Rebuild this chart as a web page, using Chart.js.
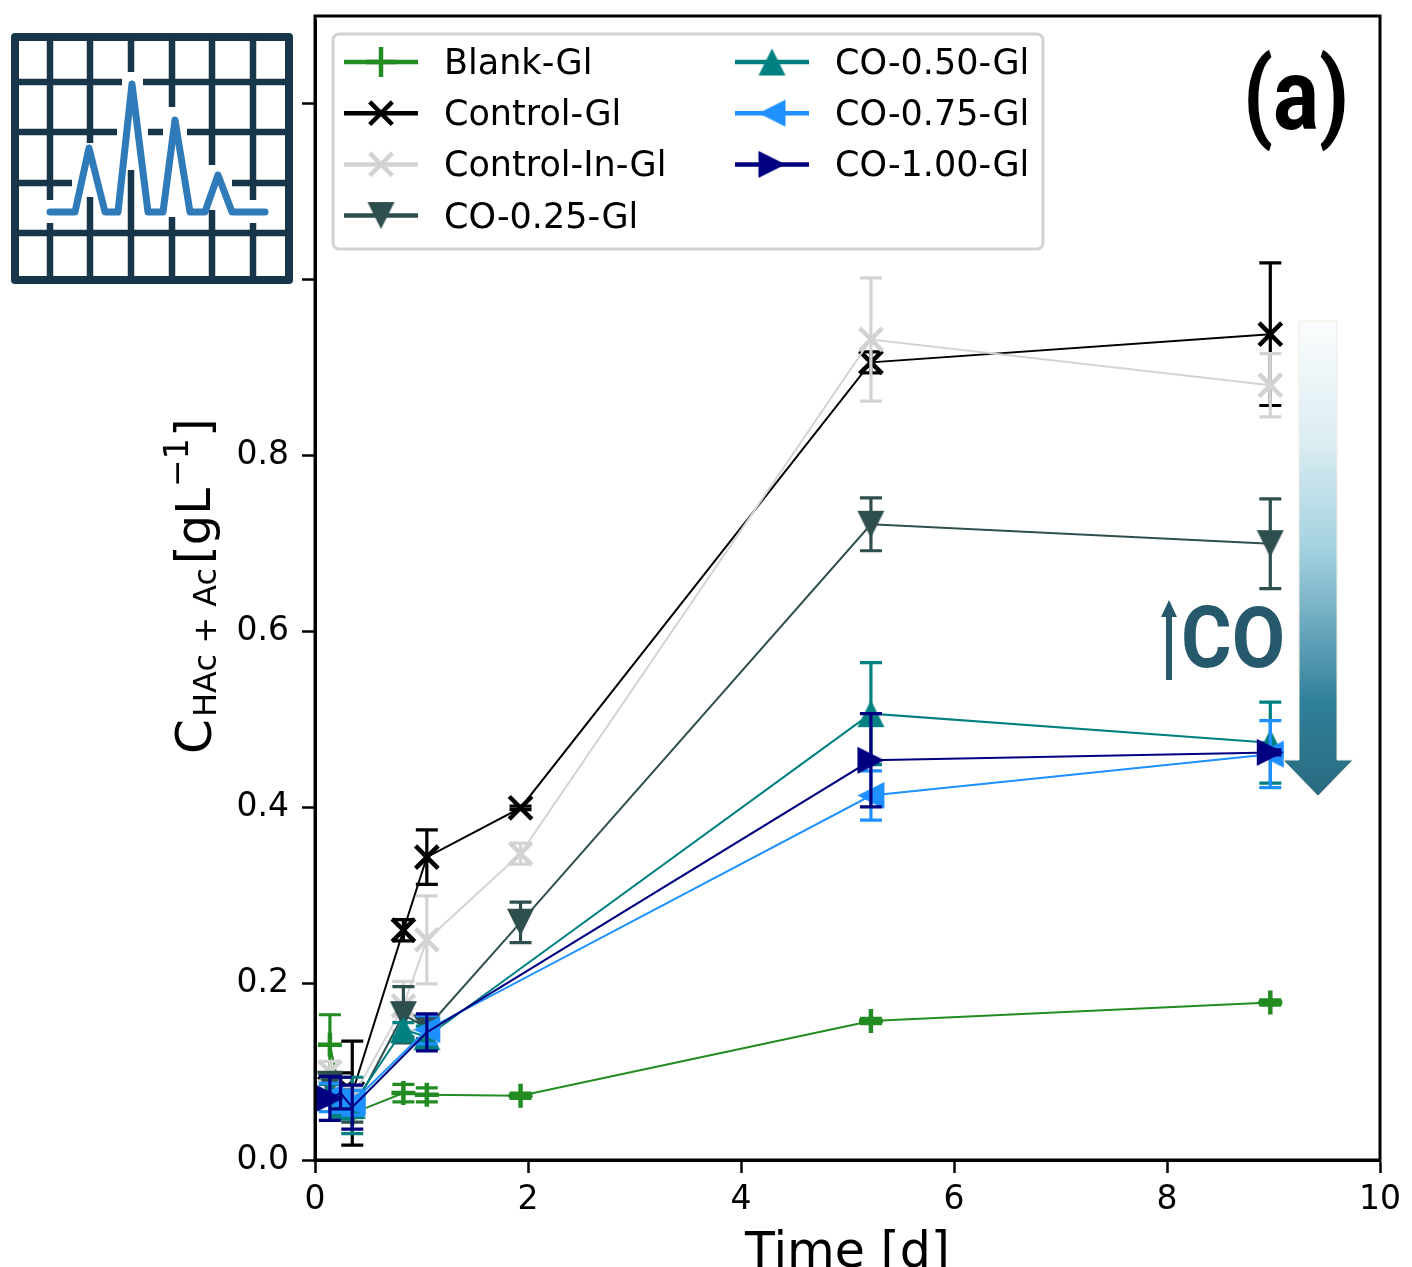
<!DOCTYPE html>
<html>
<head>
<meta charset="utf-8">
<title>Acetate concentration over time</title>
<script src="https://cdn.jsdelivr.net/npm/chart.js@4"></script>
<style>
  html, body { margin: 0; padding: 0; background: #fff; overflow: hidden; }
  canvas { display: block; }
</style>
</head>
<body>
<canvas id="chart" width="1412" height="1267"></canvas>
<script>
'use strict';

const times = [0.14, 0.24, 0.35, 0.83, 1.05, 1.93, 5.22, 8.97];

const seriesNames = ['Blank-Gl', 'Control-Gl', 'Control-In-Gl', 'CO-0.25-Gl', 'CO-0.50-Gl', 'CO-0.75-Gl', 'CO-1.00-Gl'];
const seriesColors = ['#228b22', '#000000', '#d3d3d3', '#2f4f4f', '#008080', '#1e90ff', '#000080'];

const blankValues = [0.131, 0.075, 0.053, 0.076, 0.074, 0.073, 0.158, 0.179];
const blankErrors = [0.034, 0.006, 0.005, 0.010, 0.008, 0.003, 0.003, 0.003];
const controlValues = [0.082, 0.075, 0.076, 0.261, 0.344, 0.400, 0.906, 0.938];
const controlErrors = [0.012, 0.024, 0.059, 0.012, 0.031, 0.002, 0.012, 0.081];
const controlInValues = [0.100, 0.072, 0.070, 0.175, 0.250, 0.348, 0.932, 0.880];
const controlInErrors = [0.012, 0.012, 0.012, 0.028, 0.050, 0.012, 0.070, 0.036];
const co25Values = [0.086, 0.066, 0.055, 0.165, 0.150, 0.270, 0.722, 0.700];
const co25Errors = [0.010, 0.012, 0.012, 0.032, 0.012, 0.023, 0.030, 0.051];
const co50Values = [0.076, 0.060, 0.062, 0.148, 0.140, null, 0.507, 0.474];
const co50Errors = [0.010, 0.010, 0.032, 0.008, 0.012, null, 0.058, 0.046];
const co75Values = [0.071, 0.066, 0.065, null, 0.148, null, 0.414, 0.461];
const co75Errors = [0.016, 0.012, 0.014, null, 0.016, null, 0.028, 0.038];
const co100Values = [0.070, 0.076, 0.060, null, 0.145, null, 0.454, 0.463];
const co100Errors = [0.025, 0.018, 0.025, null, 0.021, null, 0.053, 0.003];

const seriesValues = [blankValues, controlValues, controlInValues, co25Values, co50Values, co75Values, co100Values];
const seriesErrors = [blankErrors, controlErrors, controlInErrors, co25Errors, co50Errors, co75Errors, co100Errors];

const xTicks = [0, 2, 4, 6, 8, 10];
const yTicks = [0, 0.2, 0.4, 0.6, 0.8, 1.0, 1.2];
const hiddenYLabels = [1.0, 1.2];

const pointRotations = [0, 0, 0, 180, 0, -90, 90];
const pointRadii = [12, 16, 16, 14, 14, 14, 14];
// The navy markers don't show inside the crowded clusters of the reference.
const navyRadii = [14, 0, 0, 0, 0, 0, 14, 14];

const FONT = '"DejaVu Sans"';

// Chart.js puts its triangle on the centroid, matplotlib centres it on its box, so make our own.
function triangleMarker(color) {
  const marker = document.createElement('canvas');
  marker.width = 29;
  marker.height = 29;
  const m = marker.getContext('2d');
  m.fillStyle = color;
  m.beginPath();
  m.moveTo(14.5, 1);
  m.lineTo(28, 28);
  m.lineTo(1, 28);
  m.closePath();
  m.fill();
  return marker;
}

const pointStyles = [
  'cross', 'crossRot', 'crossRot',
  triangleMarker(seriesColors[3]), triangleMarker(seriesColors[4]),
  triangleMarker(seriesColors[5]), triangleMarker(seriesColors[6])
];

// Error bars are drawn straight after their own dataset, like matplotlib's errorbar.
const errorBars = {
  id: 'errorBars',
  afterDatasetDraw(chart, args) {
    const values = seriesValues[args.index];
    const errors = seriesErrors[args.index];
    const { ctx, scales: { x, y } } = chart;
    ctx.save();
    ctx.strokeStyle = seriesColors[args.index];
    ctx.lineWidth = 3.2;
    times.forEach((t, i) => {
      if (values[i] === null) return;
      const px = x.getPixelForValue(t);
      const top = y.getPixelForValue(values[i] + errors[i]);
      const bottom = y.getPixelForValue(values[i] - errors[i]);
      ctx.beginPath();
      ctx.moveTo(px, top);
      ctx.lineTo(px, bottom);
      ctx.moveTo(px - 11, top);
      ctx.lineTo(px + 11, top);
      ctx.moveTo(px - 11, bottom);
      ctx.lineTo(px + 11, bottom);
      ctx.stroke();
    });
    ctx.restore();
  }
};

function drawLegend(ctx) {
  ctx.save();
  ctx.lineWidth = 3;
  ctx.strokeStyle = '#d2d2d2';
  ctx.fillStyle = '#fff';
  ctx.beginPath();
  ctx.roundRect(333, 34, 710, 215, 6);
  ctx.fill();
  ctx.stroke();

  ctx.font = '35px ' + FONT;
  ctx.textBaseline = 'alphabetic';
  seriesNames.forEach((name, i) => {
    const col = i < 4 ? 0 : 1;
    const row = i < 4 ? i : i - 4;
    const left = col === 0 ? 344 : 735;
    const rowY = 62 + row * 51.2;
    ctx.strokeStyle = seriesColors[i];
    ctx.fillStyle = seriesColors[i];
    ctx.lineWidth = 4.5;
    ctx.beginPath();
    ctx.moveTo(left, rowY);
    ctx.lineTo(left + 74, rowY);
    ctx.stroke();
    Chart.helpers.drawPoint(ctx, {
      pointStyle: pointStyles[i],
      rotation: pointRotations[i],
      radius: i === 0 ? 15 : pointRadii[i],
      borderWidth: 3
    }, left + 37, rowY);
    ctx.fillStyle = '#000';
    ctx.fillText(name, col === 0 ? 444 : 835, rowY + 12);
  });
  ctx.restore();
}

function drawIcon(ctx) {
  const verticals = [
    [50, [[36, 200], [223, 280]]],
    [90, [[36, 143], [197, 280]]],
    [131, [[36, 72], [170, 280]]],
    [172, [[36, 107], [217, 280]]],
    [212, [[36, 165], [210, 280]]],
    [253, [[36, 200], [223, 280]]]
  ];
  const horizontals = [
    [82, [[15, 122], [143, 289]]],
    [132, [[15, 117], [148, 163], [187, 289]]],
    [183, [[15, 72], [232, 289]]],
    [233, [[15, 289]]]
  ];
  const peak = [[50, 212], [75, 212], [89, 148], [105, 212], [118, 212], [132, 84], [148, 212],
    [163, 212], [175, 120], [190, 212], [205, 212], [218, 175], [232, 212], [265, 212]];
  ctx.save();
  ctx.strokeStyle = '#17364a';
  ctx.lineWidth = 8;
  ctx.lineJoin = 'round';
  ctx.strokeRect(15, 37, 274, 243);
  ctx.lineWidth = 6.5;
  ctx.beginPath();
  verticals.forEach(([x, spans]) => spans.forEach(([a, b]) => { ctx.moveTo(x, a); ctx.lineTo(x, b); }));
  horizontals.forEach(([y, spans]) => spans.forEach(([a, b]) => { ctx.moveTo(a, y); ctx.lineTo(b, y); }));
  ctx.stroke();
  ctx.lineCap = 'round';
  ctx.strokeStyle = '#2f7ab8';
  ctx.lineWidth = 7;
  ctx.beginPath();
  peak.forEach(([px, py], i) => (i ? ctx.lineTo(px, py) : ctx.moveTo(px, py)));
  ctx.stroke();
  ctx.restore();
}

function drawYTitle(ctx) {
  const piece = (text, size, baseX, startY) => {
    ctx.save();
    ctx.translate(baseX, startY);
    ctx.rotate(-Math.PI / 2);
    ctx.font = size + 'px ' + FONT;
    ctx.fillText(text, 0, 0);
    ctx.restore();
  };
  ctx.save();
  ctx.fillStyle = '#000';
  piece('C', 50, 211, 754);
  piece('HAc + Ac', 32, 216, 717);
  piece('[gL', 48, 210, 564);
  piece('\u22121', 33, 188, 487);
  piece(']', 48, 210, 437);
  ctx.restore();
}

function drawCoArrow(ctx) {
  ctx.save();
  const gradient = ctx.createLinearGradient(0, 321, 0, 796);
  gradient.addColorStop(0, '#fbfdfd');
  gradient.addColorStop(0.25, '#dcedf2');
  gradient.addColorStop(0.48, '#a3d2e0');
  gradient.addColorStop(0.72, '#4f95ad');
  gradient.addColorStop(0.8, '#2f7f98');
  gradient.addColorStop(1, '#2a6b80');
  ctx.fillStyle = gradient;
  ctx.strokeStyle = '#f1ece0';
  ctx.lineWidth = 1;
  ctx.beginPath();
  ctx.moveTo(1299, 321);
  ctx.lineTo(1337, 321);
  ctx.lineTo(1337, 760);
  ctx.lineTo(1353, 760);
  ctx.lineTo(1318, 796);
  ctx.lineTo(1283, 760);
  ctx.lineTo(1299, 760);
  ctx.closePath();
  ctx.fill();
  ctx.stroke();

  ctx.fillStyle = '#25596b';
  ctx.fillRect(1166, 614, 6, 66);
  ctx.beginPath();
  ctx.moveTo(1169, 600);
  ctx.lineTo(1177, 617);
  ctx.lineTo(1161, 617);
  ctx.closePath();
  ctx.fill();

  ctx.translate(1181, 667);
  ctx.scale(0.9, 1);
  ctx.font = 'bold 86px Roboto';
  ctx.fillText('CO', 0, 0);
  ctx.restore();
}

const overlay = {
  id: 'overlay',
  afterDraw(chart) {
    const { ctx, chartArea: a } = chart;
    // Frame runs a little above the chart area, which Chart.js won't let start higher.
    const frameTop = 16;
    ctx.save();
    ctx.strokeStyle = '#000';
    ctx.lineWidth = 3;
    ctx.strokeRect(a.left, frameTop, a.right - a.left, a.bottom - frameTop);
    ctx.restore();
    drawLegend(ctx);
    drawIcon(ctx);
    drawYTitle(ctx);
    drawCoArrow(ctx);
    ctx.save();
    ctx.fillStyle = '#000';
    ctx.translate(1243, 129);
    ctx.scale(0.86, 1);
    ctx.font = 'bold 100px Roboto';
    ctx.fillText('(a)', 0, 0);
    ctx.restore();
  }
};

new Chart(document.getElementById('chart'), {
  type: 'line',
  data: {
    datasets: seriesNames.map((name, i) => ({
      label: name,
      data: times.map((t, j) => ({ x: t, y: seriesValues[i][j] })),
      borderColor: seriesColors[i],
      backgroundColor: seriesColors[i],
      borderWidth: 2,
      tension: 0,
      spanGaps: true,
      pointStyle: pointStyles[i],
      pointRotation: pointRotations[i],
      pointRadius: i === 6 ? navyRadii : pointRadii[i],
      pointBorderWidth: 4.5,
      pointBorderColor: seriesColors[i],
      pointBackgroundColor: seriesColors[i],
      order: seriesNames.length - i
    }))
  },
  options: {
    responsive: false,
    animation: false,
    layout: { padding: { left: 0, right: 32, top: 16, bottom: 0 } },
    plugins: { legend: { display: false }, tooltip: { enabled: false } },
    scales: {
      x: {
        type: 'linear',
        min: 0,
        max: 10,
        afterFit(scale) { scale.height = 107; scale.paddingTop = 0; scale.paddingRight = 0; },
        afterBuildTicks(scale) { scale.ticks = xTicks.map((v) => ({ value: v })); },
        border: { color: '#000', width: 3 },
        grid: { drawOnChartArea: false, color: '#000', tickLength: 13, tickWidth: 2.5 },
        ticks: {
          color: '#000',
          font: { family: FONT, size: 33 },
          padding: 8,
          maxRotation: 0,
          callback: (v) => String(v)
        },
        title: {
          display: true,
          text: 'Time [d]',
          color: '#000',
          font: { family: FONT, size: 49 },
          padding: { top: 0, bottom: -17 }
        }
      },
      y: {
        type: 'linear',
        min: 0,
        max: 1.2943,
        afterFit(scale) { scale.width = 315; scale.paddingTop = 0; scale.paddingBottom = 0; },
        afterBuildTicks(scale) { scale.ticks = yTicks.map((v) => ({ value: v })); },
        border: { color: '#000', width: 3 },
        grid: { drawOnChartArea: false, color: '#000', tickLength: 13, tickWidth: 2.5 },
        ticks: {
          color: '#000',
          font: { family: FONT, size: 33 },
          padding: 13,
          callback: (v) => (hiddenYLabels.includes(v) ? '' : v.toFixed(1))
        }
      }
    }
  },
  plugins: [errorBars, overlay]
});
</script>
</body>
</html>
